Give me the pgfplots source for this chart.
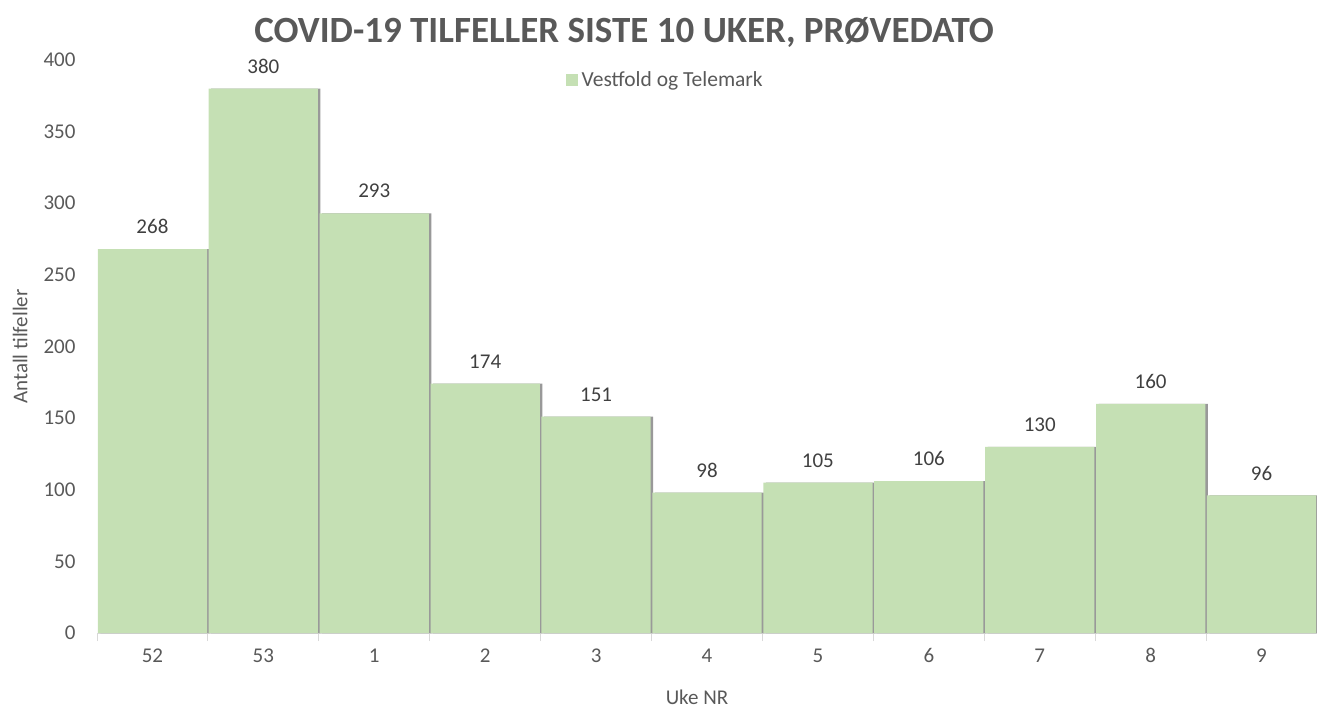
\documentclass[border=0pt]{standalone}
\usepackage{pgfplots}
\pgfplotsset{compat=1.18}
\usepackage{fontspec}
\setmainfont{Carlito}
\usetikzlibrary{shadows}
\definecolor{barfill}{HTML}{C5E0B4}
\definecolor{txt}{HTML}{595959}
\definecolor{lbl}{HTML}{404040}
\definecolor{axl}{HTML}{D9D9D9}
\begin{document}
\begin{tikzpicture}[x=1bp,y=1bp]
\begin{axis}[
  scale only axis,
  width=1220bp, height=573bp,
  xmin=-0.5, xmax=10.5,
  ymin=0, ymax=400,
  ytick={0,50,...,400},
  xtick={0,...,10},
  xticklabels={52,53,1,2,3,4,5,6,7,8,9},
  minor xtick={-0.5,0.5,...,10.5},
  major tick length=0pt,
  minor tick length=8bp,
  tick align=outside,
  tick style={axl, line width=1bp},
  axis x line*=bottom,
  axis y line*=left,
  y axis line style={draw=none},
  x axis line style={axl, line width=1bp, -},
  ytick style={draw=none},
  font=\fontsize{21bp}{25bp}\selectfont,
  ticklabel style={txt, font=\fontsize{21bp}{25bp}\selectfont},
  /pgf/number format/assume math mode=true,
  xticklabel style={yshift=-12bp},
  yticklabel style={xshift=-18bp},
  clip=false,
  legend style={at={(rel axis cs:0.466,0.965)}, anchor=center, draw=none, fill=none,
    font=\fontsize{21.5bp}{25bp}\selectfont, text=txt},
  legend cell align=left,
]
\addplot[ybar, bar width=0.985, bar shift=0pt, fill=barfill, draw=none, forget plot,
  nodes near coords,
  every node near coord/.append style={lbl, font=\fontsize{21bp}{25bp}\selectfont, anchor=south, inner sep=0pt, yshift=15bp},
  drop shadow={shadow xshift=2.5bp, shadow yshift=0bp, fill=black, opacity=0.4}]
  coordinates {(0,268) (1,380) (2,293) (3,174) (4,151) (5,98) (6,105) (7,106) (8,130) (9,160) (10,96)};
\addlegendimage{legend image code/.code={\fill[barfill] (0bp,-5bp) rectangle (11bp,6bp);}}
\addlegendentry{\hspace{2bp}Vestfold og Telemark}
\node[txt, font=\fontsize{37bp}{44bp}\selectfont\bfseries] at (rel axis cs:0.432,1.048) {COVID-19 TILFELLER SISTE 10 UKER, PRØVEDATO};
\node[txt, rotate=90] at (rel axis cs:-0.063,0.5) {Antall tilfeller};
\node[txt] at (rel axis cs:0.4918,-0.112) {Uke NR};
\end{axis}
\pgfresetboundingbox
\path ([xshift=-97bp,yshift=-75bp]current axis.south west) rectangle ([yshift=60bp]current axis.north east);
\end{tikzpicture}
\end{document}
